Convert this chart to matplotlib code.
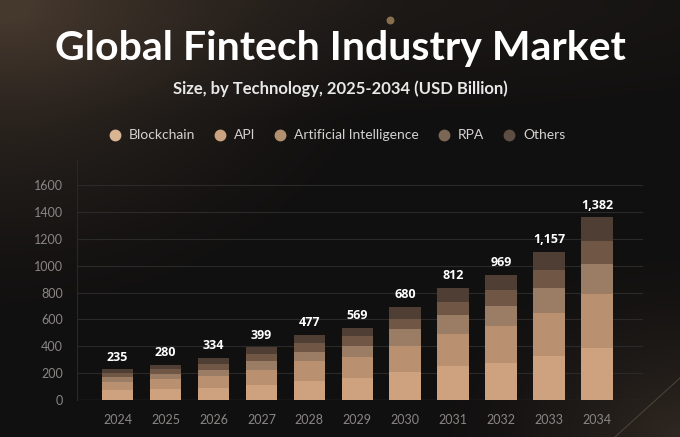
import numpy as np
import matplotlib.pyplot as plt
from matplotlib.lines import Line2D

years = ["2024", "2025", "2026", "2027", "2028", "2029", "2030", "2031", "2032", "2033", "2034"]
blockchain = [70, 80, 87, 112, 142, 162, 207, 250, 275, 325, 387]
api = [62, 75, 88, 113, 145, 155, 198, 242, 275, 320, 405]
ai = [38, 40, 50, 62, 70, 88, 125, 138, 150, 187, 225]
rpa = [30, 35, 45, 58, 68, 70, 75, 102, 117, 138, 170]
others = [27, 32, 42, 47, 62, 62, 90, 105, 115, 135, 175]
totals = ["235", "280", "334", "399", "477", "569", "680", "812", "969", "1,157", "1,382"]

names = ["Blockchain", "API", "Artificial Intelligence", "RPA", "Others"]
colors = ["#cfa27f", "#b99170", "#9b7d65", "#6f5645", "#4f3e33"]
legend_colors = ["#dab594", "#caa381", "#b0906f", "#7c6654", "#5e4d42"]

fig = plt.figure(figsize=(6.8, 4.37), dpi=100)

# background gradient
bg = fig.add_axes([0, 0, 1, 1])
h, w = 437, 680
yy, xx = np.mgrid[0:h, 0:w]
base = np.array([0x11, 0x10, 0x10]) / 255
glow = np.array([0x45, 0x38, 0x2d]) / 255
g1 = np.clip(1 - np.hypot(xx / 420, yy / 330), 0, 1) ** 1.6
g2 = np.clip(1 - np.hypot((w - xx) / 260, (h - yy) / 200), 0, 1) ** 1.6 * 0.6
g3 = np.clip(1 - np.hypot((xx - 330) / 600, yy / 120), 0, 1) * 0.25
t = np.clip(g1 + g2 + g3, 0, 1)[..., None]
img = base * (1 - t) + glow * t
bg.imshow(img, aspect="auto", extent=[0, w, h, 0])
bg.plot([615, 680], [437, 378], color="#4a4038", lw=0.8)
bg.scatter([390], [20], s=22, color="#8a6f4f")
bg.set_xlim(0, w)
bg.set_ylim(h, 0)
bg.axis("off")

fig.text(0.5, 0.889, "Global Fintech Industry Market", ha="center", va="center",
         color="white", fontsize=29.5, fontweight="bold", family="Lato")
fig.text(0.5, 0.798, "Size, by Technology, 2025-2034 (USD Billion)", ha="center", va="center",
         color="#e8e8e8", fontsize=12, fontweight="bold", family="Lato")

ax = fig.add_axes([0.113, 0.085, 0.832, 0.549])
ax.set_facecolor("none")
x = np.arange(len(years))
bottom = np.zeros(len(years))
for vals, c, n in zip([blockchain, api, ai, rpa, others], colors, names):
    ax.bar(x, vals, 0.66, bottom=bottom, color=c, label=n, zorder=3)
    bottom += np.array(vals)

for xi, top, lab in zip(x, bottom, totals):
    ax.annotate(lab, (xi, top), xytext=(0, 4), textcoords="offset points",
                ha="center", va="bottom", color="white", fontsize=9,
                fontweight="bold", family="Open Sans")

ax.set_xlim(-0.85, 10.95)
ax.set_ylim(0, 1790)
ax.set_yticks(np.arange(0, 1601, 200))
ax.set_xticks(x)
ax.set_xticklabels(years)
ax.grid(True, axis="y", color="#2c2a29", lw=0.8, zorder=0)
for s in ["top", "right", "bottom"]:
    ax.spines[s].set_visible(False)
ax.spines["left"].set_color("#2a2827")
ax.axhline(0, color="#2c2a29", lw=1, zorder=2)
ax.tick_params(length=0, colors="#8a8685", labelsize=9, pad=10)
for lb in ax.get_xticklabels() + ax.get_yticklabels():
    lb.set_family("Lato")

handles = [Line2D([], [], marker="o", ls="", markersize=7.5, color=c) for c in legend_colors]
fig.legend(handles, names, loc="center", bbox_to_anchor=(0.495, 0.69), ncol=5,
           frameon=False, labelcolor="#d4d2d0", handlelength=1.0, handletextpad=0.5,
           columnspacing=1.3, prop={"family": "Lato", "size": 10})

fig.savefig("out.png", dpi=100)
